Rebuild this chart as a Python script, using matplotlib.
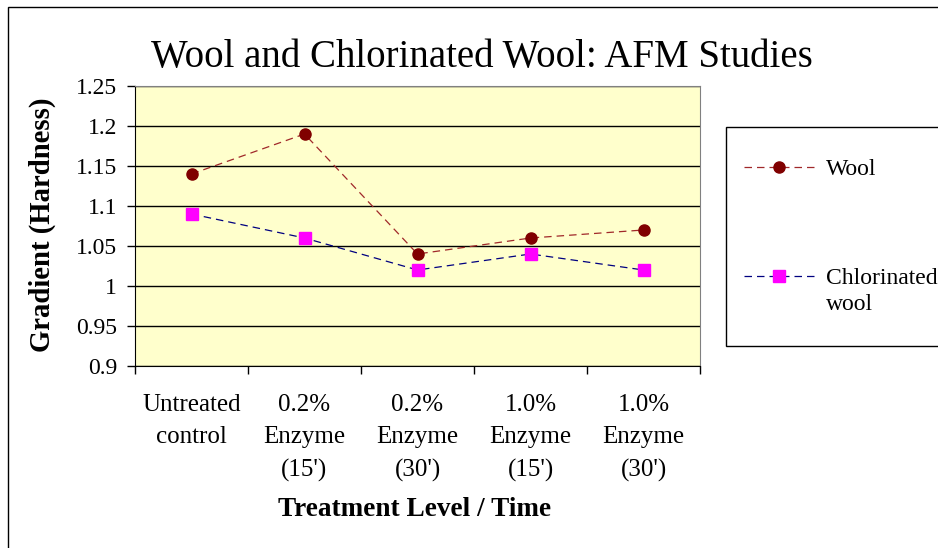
import matplotlib
matplotlib.use("Agg")
import matplotlib.pyplot as plt
from matplotlib.patches import Rectangle
from matplotlib.lines import Line2D
from matplotlib.ticker import FixedLocator, NullFormatter, FixedFormatter

categories = ["Untreated\ncontrol", "0.2%\nEnzyme\n(15')", "0.2%\nEnzyme\n(30')",
              "1.0%\nEnzyme\n(15')", "1.0%\nEnzyme\n(30')"]
wool = [1.14, 1.19, 1.04, 1.06, 1.07]
chlorinated = [1.09, 1.06, 1.02, 1.04, 1.02]
series_names = ["Wool", "Chlorinated", "wool"]
yticks = [0.9, 0.95, 1.0, 1.05, 1.1, 1.15, 1.2, 1.25]
ytick_labels = ["0.9", "0.95", "1", "1.05", "1.1", "1.15", "1.2", "1.25"]

plt.rcParams['font.family'] = ['Liberation Serif', 'DejaVu Serif']

W, H = 938, 548
fig = plt.figure(figsize=(W / 100, H / 100), dpi=100)

# outer chart frame
fig.patches.append(Rectangle((8 / W, -0.05), 1.2, 1 - 7 / H + 0.05, transform=fig.transFigure,
                             fill=False, edgecolor='black', linewidth=1.0, zorder=0))

ax = fig.add_axes([135 / W, 1 - 366 / H, (700 - 135) / W, (366 - 86) / H])
ax.set_facecolor('#FFFFCC')

DASH = (0, (6, 4))
wool_style = dict(linestyle=DASH, color='#A0282A', linewidth=0.9, marker='o', markersize=8,
                  markerfacecolor='#800000', markeredgecolor='#800000')
chl_style = dict(linestyle=DASH, color='#000080', linewidth=0.9, marker='s', markersize=8,
                 markerfacecolor='#FF00FF', markeredgecolor='#FF00FF')

x = list(range(len(categories)))
ax.plot(x, wool, zorder=3, **wool_style)
ax.plot(x, chlorinated, zorder=3, **chl_style)

ax.set_xlim(-0.5, len(categories) - 0.5)
ax.set_ylim(0.9, 1.25)
ax.yaxis.set_major_locator(FixedLocator(yticks))
ax.yaxis.set_major_formatter(FixedFormatter(ytick_labels))
ax.grid(axis='y', color='black', linewidth=1.0)
ax.set_axisbelow(True)

ax.xaxis.set_major_locator(FixedLocator([i - 0.5 for i in range(len(categories) + 1)]))
ax.xaxis.set_major_formatter(NullFormatter())
ax.xaxis.set_minor_locator(FixedLocator(x))
ax.xaxis.set_minor_formatter(FixedFormatter(categories))
ax.tick_params(axis='x', which='major', direction='out', length=6, width=1, color='black')
ax.tick_params(axis='x', which='minor', length=0, pad=20, labelsize=18)
ax.tick_params(axis='y', direction='out', length=6, width=1, labelsize=17, pad=7)
for lab in ax.xaxis.get_minorticklabels():
    lab.set_linespacing(1.62)
    lab.set_horizontalalignment('center')

for s in ['top', 'right']:
    ax.spines[s].set_color('#808080')
ax.spines['left'].set_color('black')
ax.spines['bottom'].set_color('black')

fig.text(482 / W, 1 - 57 / H, "Wool and Chlorinated Wool: AFM Studies", ha='center', va='center', fontsize=28)
fig.text(415 / W, 1 - 510 / H, "Treatment Level / Time", ha='center', va='center', fontsize=19.6,
         fontweight='bold')
fig.text(42 / W, 1 - 225 / H, "Gradient (Hardness)", ha='center', va='center', rotation=90,
         fontsize=20.7, fontweight='bold')

# legend box
fig.patches.append(Rectangle((726 / W, 1 - 346 / H), 1.0, (346 - 127) / H, transform=fig.transFigure,
                             facecolor='white', edgecolor='black', linewidth=1.0, zorder=1))
leg_kw = dict(loc='center left', frameon=False, fontsize=17, handlelength=3.0, handletextpad=0.47,
              borderpad=0, borderaxespad=0)
leg1 = fig.legend([Line2D([], [], **wool_style)], [series_names[0]],
                  bbox_to_anchor=(744 / W, 1 - 169.5 / H), **leg_kw)
leg2 = fig.legend([Line2D([], [], **chl_style)], [series_names[1]],
                  bbox_to_anchor=(744 / W, 1 - 278.5 / H), **leg_kw)
leg1.set_zorder(2)
leg2.set_zorder(2)
fig.text(826 / W, 1 - 305 / H, series_names[2], ha='left', va='center', fontsize=17, zorder=3)

fig.savefig("out.png", dpi=100)
